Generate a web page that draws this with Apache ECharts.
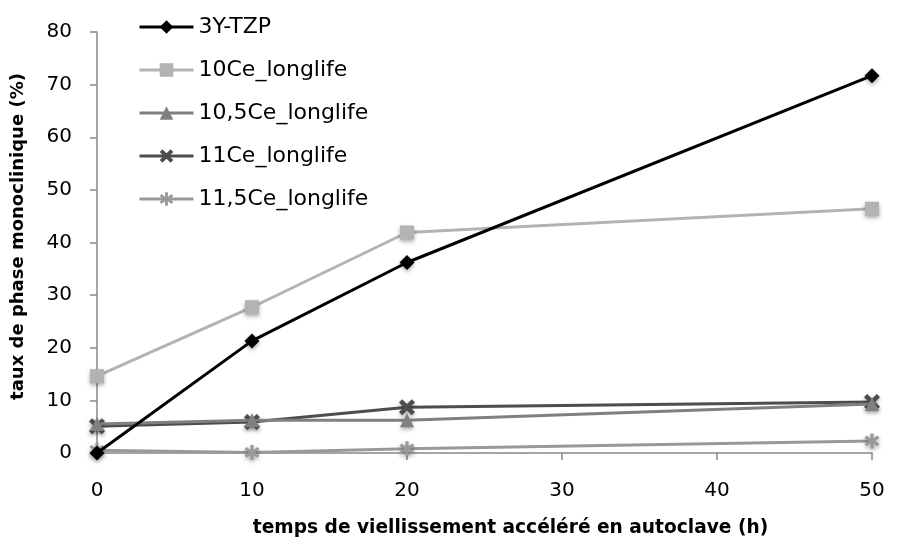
<!DOCTYPE html>
<html><head><meta charset="utf-8">
<script src="https://cdn.jsdelivr.net/npm/echarts@6/dist/echarts.min.js"></script>
<style>html,body{margin:0;padding:0;background:#fff}#c{width:906px;height:543px}</style>
</head><body><div id="c"></div>
<script>
const xValues = [0, 10, 20, 50];
const names = ['3Y-TZP', '10Ce_longlife', '10,5Ce_longlife', '11Ce_longlife', '11,5Ce_longlife'];
const s3Y = [0, 21.3, 36.2, 71.7];
const s10Ce = [14.6, 27.7, 41.9, 46.4];
const s105Ce = [5.5, 6.2, 6.2, 9.3];
const s11Ce = [5.1, 5.9, 8.7, 9.7];
const s115Ce = [0.5, 0.1, 0.8, 2.3];
const xTicks = [0, 10, 20, 30, 40, 50];
const yTicks = [0, 10, 20, 30, 40, 50, 60, 70, 80];

const colors = ['#000000', '#b3b3b3', '#808080', '#4d4d4d', '#999999'];
const xPath = 'path://M0,2 L2,0 L5,3 L8,0 L10,2 L7,5 L10,8 L8,10 L5,7 L2,10 L0,8 L3,5 Z';
const starPath = 'path://M4,0 H6 V3.3 L8.6,1.4 L9.8,3 L7,5 L9.8,7 L8.6,8.6 L6,6.7 V10 H4 V6.7 L1.4,8.6 L0.2,7 L3,5 L0.2,3 L1.4,1.4 L4,3.3 Z';
const symbols = ['diamond', 'rect', 'triangle', xPath, starPath];
const sizes = [15, 14, 14, 16, 15];
const all = [s3Y, s10Ce, s105Ce, s11Ce, s115Ce];
const font = '"DejaVu Sans", Verdana, sans-serif';

const series = names.map((n, i) => ({
  name: n, type: 'line',
  data: xValues.map((x, j) => [x, all[i][j]]),
  symbol: symbols[i], symbolSize: sizes[i],
  lineStyle: { color: colors[i], width: 3 },
  itemStyle: { color: colors[i], shadowBlur: 4, shadowColor: 'rgba(0,0,0,0.35)', shadowOffsetY: 2 },
  z: 10 - i
}));

const chart = echarts.init(document.getElementById('c'));
chart.setOption({
  animation: false,
  backgroundColor: '#fff',
  grid: { left: 97, right: 34, top: 32, bottom: 89 },
  legend: {
    orient: 'vertical', left: 133, top: 10, itemGap: 19, itemWidth: 54, itemHeight: 17,
    lineStyle: { width: 3 },
    textStyle: { fontFamily: font, fontSize: 22, lineHeight: 24, color: '#000' },
    data: names
  },
  xAxis: {
    type: 'value', min: 0, max: 50, interval: 10,
    name: 'temps de viellissement accéléré en autoclave (h)',
    nameLocation: 'middle', nameGap: 66,
    nameTextStyle: { fontFamily: font, fontSize: 18.6, fontWeight: 'bold', color: '#000', padding: [0, 0, 0, 52] },
    axisLine: { lineStyle: { color: '#888', width: 1.5 } },
    axisTick: { show: true, length: 7, lineStyle: { color: '#888', width: 1.5 } },
    axisLabel: { fontFamily: font, fontSize: 20, color: '#000', margin: 28 },
    splitLine: { show: false }
  },
  yAxis: {
    type: 'value', min: 0, max: 80, interval: 10,
    name: 'taux de phase monoclinique (%)',
    nameLocation: 'middle', nameGap: 70,
    nameTextStyle: { fontFamily: font, fontSize: 18, fontWeight: 'bold', color: '#000', padding: [0, 0, 0, 12] },
    axisLine: { show: true, lineStyle: { color: '#888', width: 1.5 } },
    axisTick: { show: true, length: 7, lineStyle: { color: '#888', width: 1.5 } },
    axisLabel: { fontFamily: font, fontSize: 20, color: '#000', margin: 25 },
    splitLine: { show: false }
  },
  series: series
});
</script></body></html>
